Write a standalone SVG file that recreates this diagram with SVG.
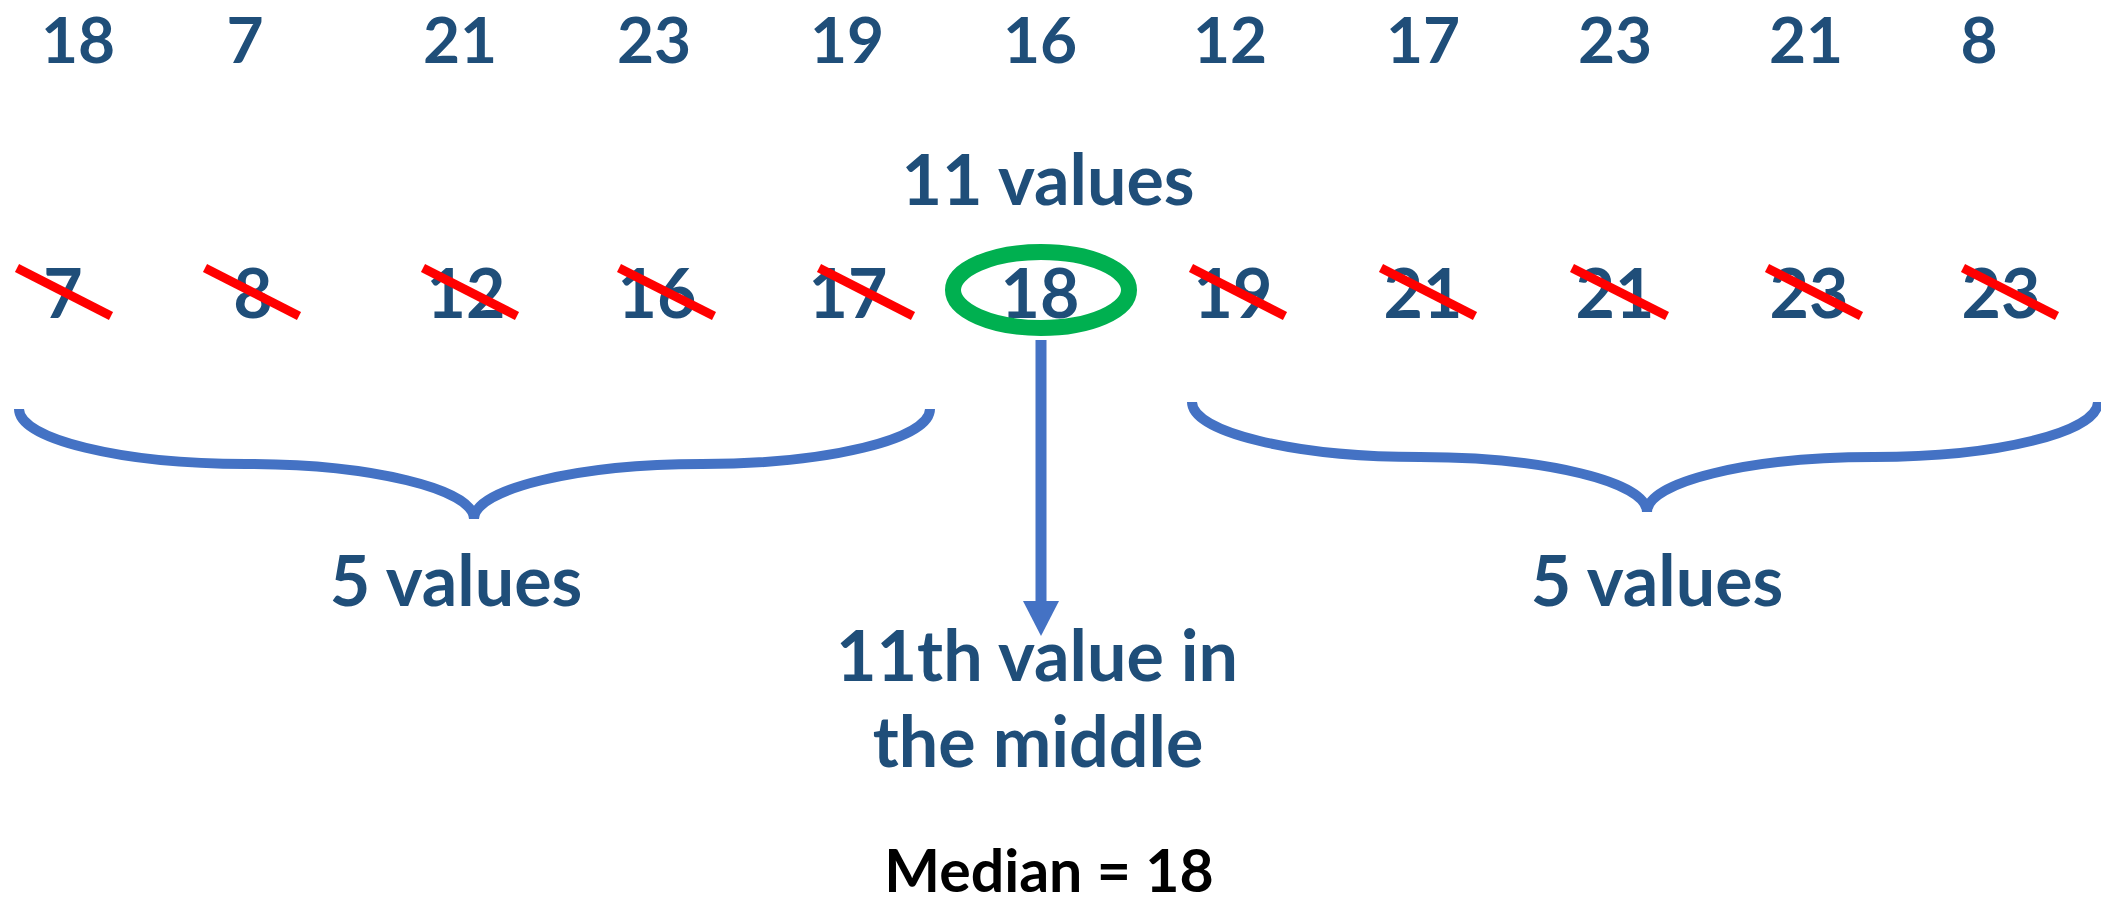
<svg xmlns="http://www.w3.org/2000/svg" width="2101" height="905" viewBox="0 0 2101 905">
  <defs>
    <style>
      .num { font-family: Lato, "Liberation Sans", sans-serif; font-weight: 700; font-size: 68px; fill: #1F4E79; text-anchor: middle; }
      .top { font-size: 64px; }
      .lbl { font-family: Lato, "Liberation Sans", sans-serif; font-weight: 700; font-size: 70px; fill: #1F4E79; text-anchor: middle; }
      .result { font-family: Lato, "Liberation Sans", sans-serif; font-weight: 700; font-size: 59px; fill: #000000; text-anchor: middle; }
      .strike { stroke: #FF0000; stroke-width: 9; stroke-linecap: butt; }
      .brace { fill: none; stroke: #4472C4; stroke-width: 10; stroke-linecap: butt; }
      .arrow { stroke: #4472C4; stroke-width: 11; fill: none; }
    </style>
    <marker id="head" viewBox="0 0 35 36" refX="0" refY="18" markerWidth="35" markerHeight="36" markerUnits="userSpaceOnUse" orient="auto">
      <path d="M0,0 L35,18 L0,36 Z" fill="#4472C4"/>
    </marker>
  </defs>

  <rect width="2101" height="905" fill="#FFFFFF"/>

  <!-- unsorted data -->
  <g id="raw-values">
    <text class="num top" x="78" y="63">18</text>
    <text class="num top" x="245" y="63">7</text>
    <text class="num top" x="460" y="63">21</text>
    <text class="num top" x="654" y="63">23</text>
    <text class="num top" x="847" y="63">19</text>
    <text class="num top" x="1040" y="63">16</text>
    <text class="num top" x="1230" y="63">12</text>
    <text class="num top" x="1423" y="63">17</text>
    <text class="num top" x="1615" y="63">23</text>
    <text class="num top" x="1806" y="63">21</text>
    <text class="num top" x="1979" y="63">8</text>
  </g>

  <g id="count-label">
    <text class="lbl" x="1048" y="205">11 values</text>
  </g>

  <!-- sorted data -->
  <g id="sorted-values">
    <text class="num" x="63" y="318">7</text>
    <text class="num" x="253" y="318">8</text>
    <text class="num" x="466" y="318">12</text>
    <text class="num" x="657" y="318">16</text>
    <text class="num" x="848" y="318">17</text>
    <text class="num" x="1040" y="318">18</text>
    <text class="num" x="1233" y="318">19</text>
    <text class="num" x="1423" y="318">21</text>
    <text class="num" x="1615" y="318">21</text>
    <text class="num" x="1809" y="318">23</text>
    <text class="num" x="2001" y="318">23</text>
  </g>

  <!-- crossed-out values -->
  <g id="strikes">
    <line class="strike" x1="17" y1="268" x2="111" y2="316"/>
    <line class="strike" x1="205" y1="268" x2="299" y2="316"/>
    <line class="strike" x1="423" y1="268" x2="517" y2="316"/>
    <line class="strike" x1="619" y1="268" x2="714" y2="316"/>
    <line class="strike" x1="819" y1="268" x2="913" y2="316"/>
    <line class="strike" x1="1191" y1="268" x2="1285" y2="316"/>
    <line class="strike" x1="1381" y1="268" x2="1475" y2="316"/>
    <line class="strike" x1="1572" y1="268" x2="1667" y2="316"/>
    <line class="strike" x1="1767" y1="268" x2="1861" y2="316"/>
    <line class="strike" x1="1963" y1="268" x2="2057" y2="316"/>
  </g>

  <!-- middle value ring -->
  <g id="median-ring">
    <ellipse cx="1041" cy="290" rx="88" ry="38" fill="none" stroke="#00B050" stroke-width="16"/>
  </g>

  <g id="left-brace">
    <path class="brace" d="M19,409 C19,439 121,464 246,464 C371,464 474,489 474,519 M930,409 C930,439 828,464 702,464 C578,464 474,489 474,519"/>
    <text class="lbl" x="456" y="606">5 values</text>
  </g>

  <g id="right-brace">
    <path class="brace" d="M1192,402 C1192,432 1294,457 1420,457 C1545,457 1647,482 1647,512 M2098,402 C2098,432 1998,457 1874,457 C1749,457 1647,482 1647,512"/>
    <text class="lbl" x="1657" y="606">5 values</text>
  </g>

  <g id="connectors">
    <line class="arrow" x1="1041" y1="340" x2="1041" y2="601" marker-end="url(#head)"/>
  </g>

  <g id="middle-label">
    <text class="lbl" x="1037" y="681">11th value in</text>
    <text class="lbl" x="1038" y="767">the middle</text>
  </g>

  <g id="result">
    <text class="result" x="1049" y="892">Median = 18</text>
  </g>
</svg>
